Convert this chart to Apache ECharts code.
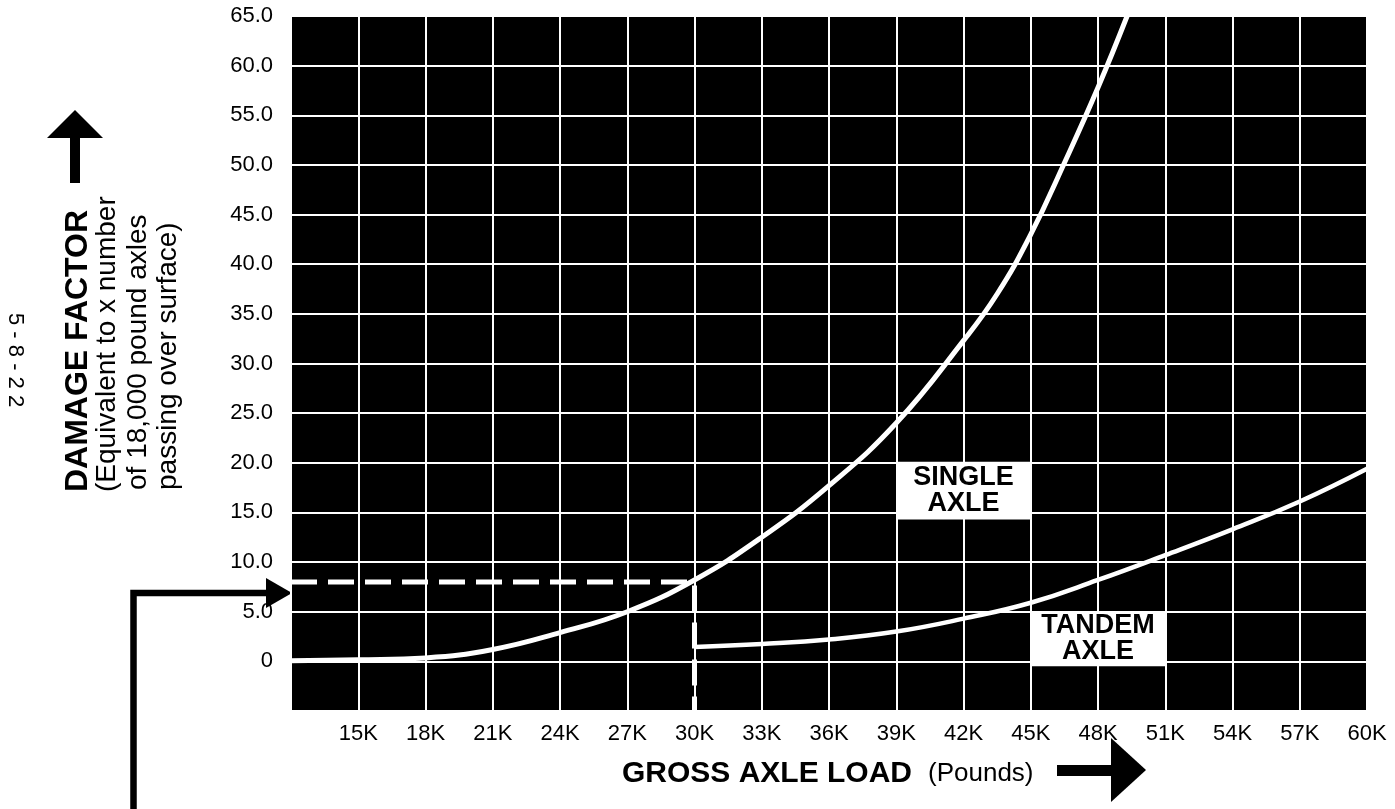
<!DOCTYPE html>
<html>
<head>
<meta charset="utf-8">
<script src="https://cdn.jsdelivr.net/npm/echarts@6/dist/echarts.min.js"></script>
<style>
html,body{margin:0;padding:0;background:#fff;}
#c{width:1395px;height:809px;}
</style>
</head>
<body>
<div id="c"></div>
<script>
// ---- data (loads in pounds, damage factor) ----
const singleLoads  = [12000, 15000, 18000, 21000, 24000, 27000, 30000, 33000, 36000, 39000, 42000, 43500, 45000, 46500, 48000, 49300];
const singleDamage = [0.05, 0.15, 0.35, 1.2, 2.9, 5.0, 8.2, 12.5, 17.7, 24.0, 32.3, 37.0, 43.0, 50.2, 57.8, 65.0];
const tandemLoads  = [30000, 33000, 36000, 39000, 42000, 45000, 48000, 51000, 54000, 57000, 60000];
const tandemDamage = [1.45, 1.75, 2.2, 3.0, 4.3, 5.9, 8.2, 10.7, 13.3, 16.1, 19.4];
const refLoads  = [12000, 30000, 30000];
const refDamage = [8, 8, -5];
const singleBox = {x: [39000, 45000], y: [20.1, 14.3], text: 'SINGLE\nAXLE'};
const tandemBox = {x: [45000, 51000], y: [5.0, -0.5], text: 'TANDEM\nAXLE'};

const FONT = '"Liberation Sans", Arial, Helvetica, sans-serif';
const zip = (a, b) => a.map((v, i) => [v, b[i]]);

const chart = echarts.init(document.getElementById('c'), null, {renderer: 'canvas'});

function boxArea(b) {
  return {
    silent: true,
    itemStyle: {color: '#fff', opacity: 1},
    label: {show: true, position: 'inside', color: '#000', fontFamily: FONT,
            fontWeight: 'bold', fontSize: 27, lineHeight: 26},
    data: [[{name: b.text, coord: [b.x[0], b.y[0]]}, {coord: [b.x[1], b.y[1]]}]]
  };
}

const option = {
  backgroundColor: '#fff',
  animation: false,
  grid: {left: 291, right: 28, top: 16, bottom: 98, show: true,
         backgroundColor: '#000', borderWidth: 0},
  xAxis: {
    type: 'value', min: 12000, max: 60000, interval: 3000,
    axisLine: {show: false}, axisTick: {show: false},
    splitLine: {show: true, lineStyle: {color: '#fff', width: 2}},
    axisLabel: {color: '#000', fontSize: 22, fontFamily: FONT, margin: 12,
      formatter: v => v === 12000 ? '' : (v / 1000) + 'K'}
  },
  yAxis: {
    type: 'value', min: -5, max: 65, interval: 5,
    axisLine: {show: false}, axisTick: {show: false},
    splitLine: {show: true, lineStyle: {color: '#fff', width: 2}},
    axisLabel: {color: '#000', fontSize: 22, fontFamily: FONT, margin: 18,
      formatter: v => v < 0 ? '' : (v === 0 ? '0' : v.toFixed(1))}
  },
  series: [
    {
      type: 'line', name: 'Reference', data: zip(refLoads, refDamage),
      symbol: 'none', silent: true,
      lineStyle: {color: '#fff', width: 5, type: [26, 11]}
    },
    {
      type: 'line', name: 'Single axle', data: zip(singleLoads, singleDamage),
      symbol: 'none', smooth: 0.45, clip: true,
      lineStyle: {color: '#fff', width: 5},
      markArea: boxArea(singleBox)
    },
    {
      type: 'line', name: 'Tandem axle', data: zip(tandemLoads, tandemDamage),
      symbol: 'none', smooth: 0.45, clip: true,
      lineStyle: {color: '#fff', width: 4.5},
      markArea: boxArea(tandemBox)
    }
  ],
  graphic: [
    // up arrow
    {type: 'polygon', shape: {points: [[75, 110], [103, 138], [47, 138]]}, style: {fill: '#000'}},
    {type: 'rect', shape: {x: 70, y: 136, width: 10, height: 47}, style: {fill: '#000'}},
    // y title (rotated)
    {type: 'text', x: 78, y: 492, rotation: Math.PI / 2,
     style: {text: 'DAMAGE FACTOR', fill: '#000', font: 'bold 32px ' + FONT, align: 'left', verticalAlign: 'middle'}},
    {type: 'text', x: 107, y: 492, rotation: Math.PI / 2,
     style: {text: '(Equivalent to x number', fill: '#000', font: '28px ' + FONT, align: 'left', verticalAlign: 'middle'}},
    {type: 'text', x: 138, y: 490, rotation: Math.PI / 2,
     style: {text: 'of 18,000 pound axles', fill: '#000', font: '28px ' + FONT, align: 'left', verticalAlign: 'middle'}},
    {type: 'text', x: 168, y: 490, rotation: Math.PI / 2,
     style: {text: 'passing over surface)', fill: '#000', font: '28px ' + FONT, align: 'left', verticalAlign: 'middle'}},
    // page number
    {type: 'text', x: 15, y: 313, rotation: -Math.PI / 2,
     style: {text: '5 - 8 - 2 2', fill: '#000', font: '22px ' + FONT, align: 'left', verticalAlign: 'middle'}},
    // bracket arrow at left
    {type: 'polyline', shape: {points: [[133.5, 809], [133.5, 593], [270, 593]]},
     style: {stroke: '#000', lineWidth: 6.5, fill: null}},
    {type: 'polygon', shape: {points: [[292, 593], [266, 578], [266, 608]]}, style: {fill: '#000'}},
    // x title
    {type: 'text', x: 622, y: 774,
     style: {text: '{b|GROSS AXLE LOAD}{n|(Pounds)}', fill: '#000', align: 'left', verticalAlign: 'middle',
       rich: {b: {fontFamily: FONT, fontWeight: 'bold', fontSize: 30, fill: '#000'},
              n: {fontFamily: FONT, fontSize: 26, fill: '#000', padding: [0, 0, 0, 16]}}}},
    // right arrow
    {type: 'rect', shape: {x: 1057, y: 765, width: 56, height: 11}, style: {fill: '#000'}},
    {type: 'polygon', shape: {points: [[1146, 770], [1111, 738], [1111, 802]]}, style: {fill: '#000'}}
  ]
};
chart.setOption(option);
</script>
</body>
</html>
